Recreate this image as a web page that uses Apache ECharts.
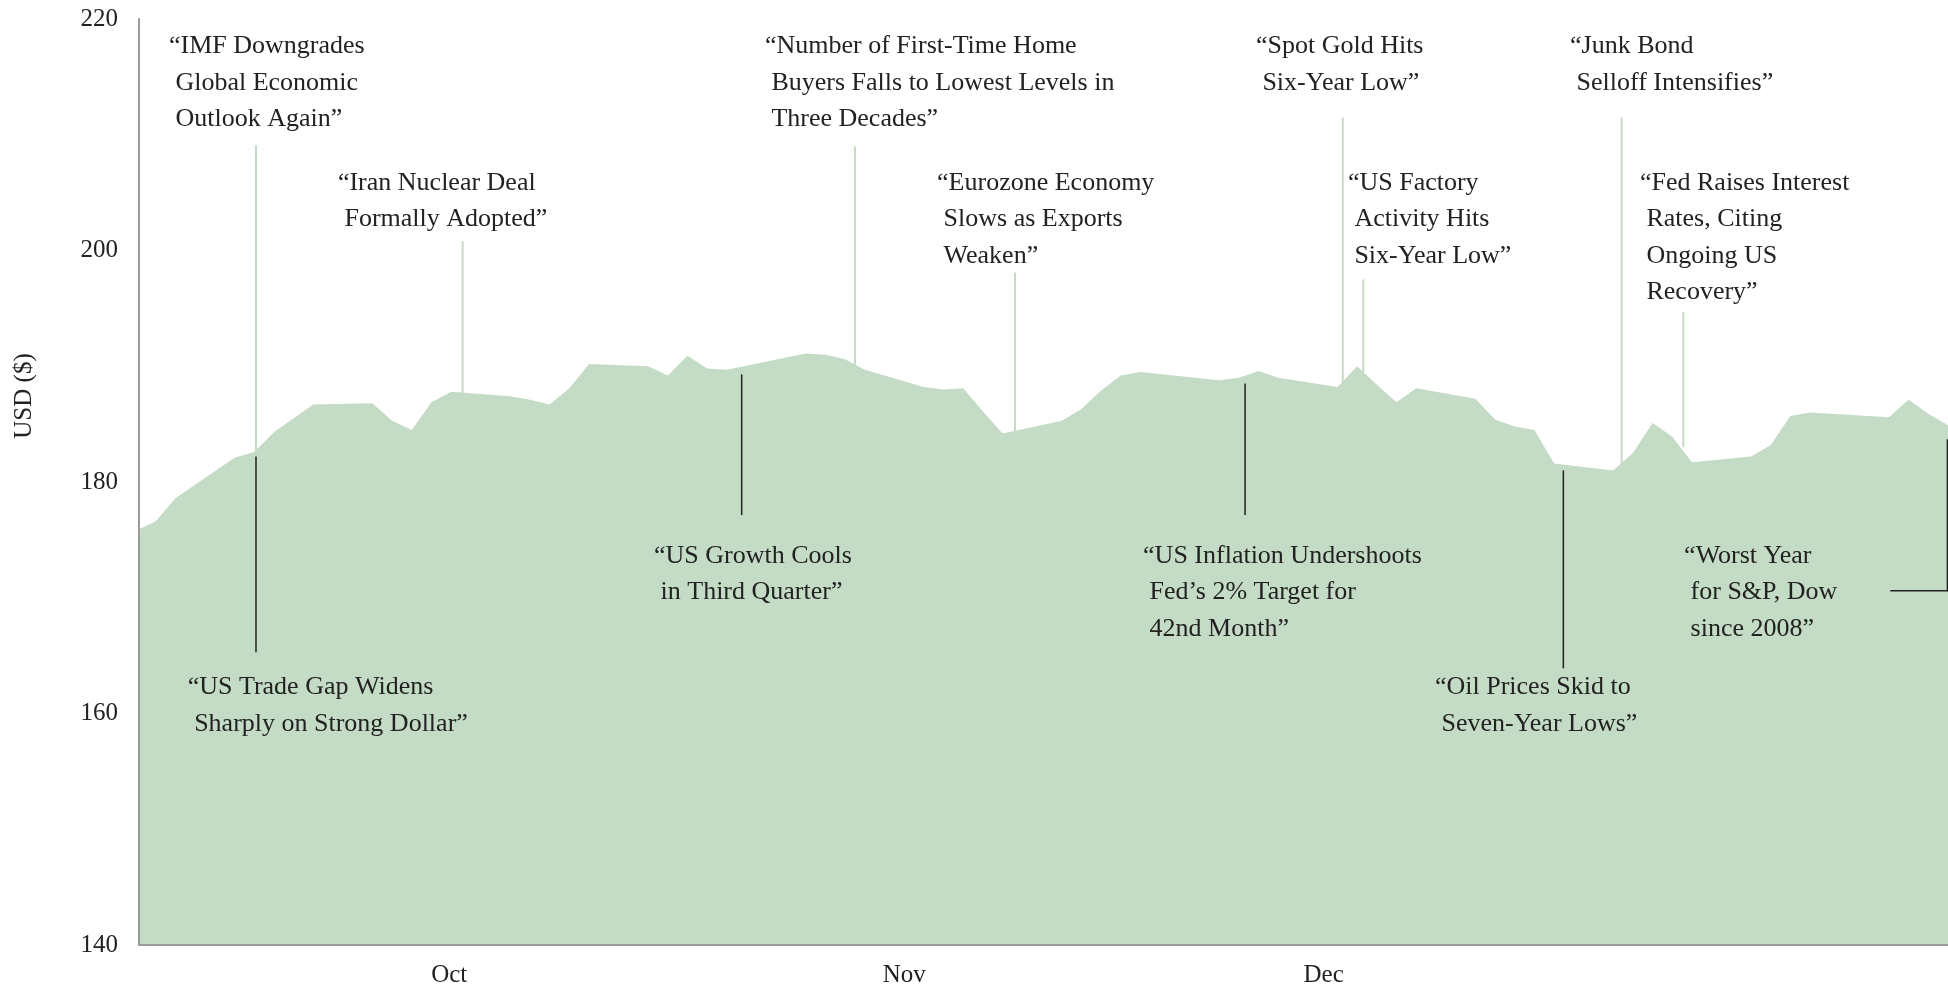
<!DOCTYPE html>
<html>
<head>
<meta charset="utf-8">
<title>Headlines over the S&amp;P, Q4 2015</title>
<script src="https://cdn.jsdelivr.net/npm/echarts@6/dist/echarts.min.js"></script>
<style>
  html, body { margin: 0; padding: 0; background: #fff; }
  #chart { width: 1948px; height: 984px; }
</style>
</head>
<body>
<div id="chart"></div>
<script>
// trading days shown as vertices in the reference
const dates = [
  '2015-09-30', '2015-10-01', '2015-10-02', '2015-10-05', '2015-10-06', '2015-10-07', '2015-10-08', '2015-10-09',
  '2015-10-12', '2015-10-13', '2015-10-14', '2015-10-15', '2015-10-16', '2015-10-19', '2015-10-20', '2015-10-21',
  '2015-10-22', '2015-10-23', '2015-10-26', '2015-10-27', '2015-10-28', '2015-10-29', '2015-10-30', '2015-11-03',
  '2015-11-04', '2015-11-05', '2015-11-06', '2015-11-09', '2015-11-10', '2015-11-11', '2015-11-12', '2015-11-13',
  '2015-11-16', '2015-11-17', '2015-11-18', '2015-11-19', '2015-11-20', '2015-11-24', '2015-11-25', '2015-11-26',
  '2015-11-27', '2015-11-30', '2015-12-01', '2015-12-02', '2015-12-03', '2015-12-04', '2015-12-07', '2015-12-08',
  '2015-12-09', '2015-12-10', '2015-12-11', '2015-12-14', '2015-12-15', '2015-12-16', '2015-12-17', '2015-12-18',
  '2015-12-21', '2015-12-22', '2015-12-23', '2015-12-24', '2015-12-28', '2015-12-29', '2015-12-30', '2015-12-31'
]
const closes = [
  175.8, 176.6, 178.6, 182.1, 182.6, 184.3, 185.5, 186.7,
  186.8, 185.3, 184.5, 186.9, 187.8, 187.4, 187.1, 186.7,
  188.1, 190.2, 190.0, 189.2, 190.9, 189.8, 189.7, 191.1,
  191.0, 190.6, 189.7, 188.2, 188.0, 188.1, 186.1, 184.2,
  185.3, 186.3, 187.9, 189.2, 189.5, 188.8, 189.0, 189.6,
  189.0, 188.2, 190.0, 188.4, 186.9, 188.1, 187.2, 185.4,
  184.8, 184.5, 181.6, 181.0, 182.5, 185.1, 183.9, 181.7,
  182.2, 183.2, 185.7, 186.0, 185.6, 187.1, 185.9, 184.9
]

const yTicks = [140, 160, 180, 200, 220]
const monthLabels = ['Oct', 'Nov', 'Dec']
const monthLabelDays = [15.9, 39.0, 60.3]   // where the reference puts the month names (days after Sep 30)

const headlines = [
  '“IMF Downgrades\n Global Economic\n Outlook Again”',
  '“Iran Nuclear Deal\n Formally Adopted”',
  '“Number of First-Time Home\n Buyers Falls to Lowest Levels in\n Three Decades”',
  '“Eurozone Economy\n Slows as Exports\n Weaken”',
  '“Spot Gold Hits\n Six-Year Low”',
  '“US Factory\n Activity Hits\n Six-Year Low”',
  '“Junk Bond\n Selloff Intensifies”',
  '“Fed Raises Interest\n Rates, Citing\n Ongoing US\n Recovery”',
  '“US Trade Gap Widens\n Sharply on Strong Dollar”',
  '“US Growth Cools\n in Third Quarter”',
  '“US Inflation Undershoots\n Fed’s 2% Target for\n 42nd Month”',
  '“Oil Prices Skid to\n Seven-Year Lows”',
  '“Worst Year\n for S&P, Dow\n since 2008”'
]

// placement of each headline: connector x (days), connector from/to (USD), text top-left (days, USD)
const noteLayout = [
  { at: 6.09, from: 182.0, to: 209.1, tx: 1.67, ty: 219.22 },
  { at: 16.58, from: 187.0, to: 200.8, tx: 10.25, ty: 207.43 },
  { at: 36.50, from: 190.0, to: 209.0, tx: 31.93, ty: 219.22 },
  { at: 44.63, from: 184.0, to: 198.1, tx: 40.67, ty: 207.43 },
  { at: 61.27, from: 188.0, to: 211.5, tx: 56.86, ty: 219.22 },
  { at: 62.31, from: 189.5, to: 197.5, tx: 61.53, ty: 207.43 },
  { at: 75.43, from: 181.0, to: 211.5, tx: 72.81, ty: 219.22 },
  { at: 78.56, from: 183.0, to: 194.7, tx: 76.36, ty: 207.43 },
  { at: 6.09, from: 182.2, to: 165.3, tx: 2.62, ty: 163.84, below: true },
  { at: 30.75, from: 189.3, to: 177.15, tx: 26.30, ty: 175.2, below: true },
  { at: 56.31, from: 188.5, to: 177.15, tx: 51.13, ty: 175.2, below: true },
  { at: 72.47, from: 181.0, to: 163.9, tx: 65.95, ty: 163.84, below: true },
  { at: 91.97, from: 183.7, to: 170.6, elbow: 89.07, tx: 78.6, ty: 175.2, below: true }
]

const FONT = 'Liberation Serif'
const INK = '#222222'
const GREEN = '#c4dbc5'
const AXIS = '#9b9b9b'

const t0 = Date.parse('2015-09-30T00:00:00Z')
const dayOf = s => (Date.parse(s + 'T00:00:00Z') - t0) / 864e5

const chart = echarts.init(document.getElementById('chart'))

chart.setOption({
    animation: false,
    grid: { left: 139, right: 0, top: 19, bottom: 39, containLabel: false, outerBoundsMode: 'none' },
    xAxis: {
        type: 'value',
        min: 0.15,
        max: dayOf('2015-12-31'),
        z: 4,
        splitLine: { show: false },
        axisTick: { show: false },
        axisLine: { show: true, lineStyle: { color: AXIS, width: 2 } },
        axisLabel: {
            customValues: monthLabelDays,
            margin: 18,
            fontFamily: FONT,
            fontSize: 25,
            color: INK,
            formatter: v => {
                const i = monthLabelDays.findIndex(d => Math.abs(d - v) < 0.01)
                return i < 0 ? '' : monthLabels[i]
            }
        }
    },
    yAxis: {
        type: 'value',
        min: yTicks[0],
        max: yTicks[yTicks.length - 1],
        interval: yTicks[1] - yTicks[0],
        z: 4,
        name: 'USD ($)',
        nameLocation: 'middle',
        nameGap: 102,
        nameTextStyle: {
            fontFamily: FONT,
            fontSize: 25,
            color: INK,
            padding: [0, 0, 0, 172]
        },
        splitLine: { show: false },
        axisTick: { show: false },
        axisLine: { show: true, lineStyle: { color: AXIS, width: 2 } },
        axisLabel: { margin: 21, fontFamily: FONT, fontSize: 25, color: INK }
    },
    series: [{
        name: 'close',
        type: 'line',
        data: dates.map((d, i) => [dayOf(d), closes[i]]),
        symbol: 'none',
        lineStyle: { width: 0 },
        areaStyle: { color: GREEN, opacity: 1, origin: 'start' },
        z: 2
    },
    {
        name: 'headlines',
        type: 'custom',
        clip: false,
        z: 5,
        data: noteLayout.map(n => [n.at, n.from]),
        encode: { x: 0, y: 1 },
        renderItem: (params, api) => {
            const n = noteLayout[params.dataIndex]
            const pts = [api.coord([n.at, n.from]), api.coord([n.at, n.to])]
            if (n.elbow != null)
                pts.push(api.coord([n.elbow, n.to]))
            const t = api.coord([n.tx, n.ty])
            return {
                type: 'group',
                children: [{
                    type: 'polyline',
                    shape: { points: pts },
                    style: {
                        stroke: n.below ? INK : GREEN,
                        lineWidth: n.below ? 1.5 : 2,
                        fill: null
                    }
                },
                {
                    type: 'text',
                    x: t[0],
                    y: t[1],
                    style: {
                        text: headlines[params.dataIndex],
                        fontFamily: FONT,
                        fontSize: 26,
                        lineHeight: 36.5,
                        fill: INK,
                        align: 'left',
                        verticalAlign: 'top'
                    }
                }]
            }
        }
    }]
})
</script>
</body>
</html>
